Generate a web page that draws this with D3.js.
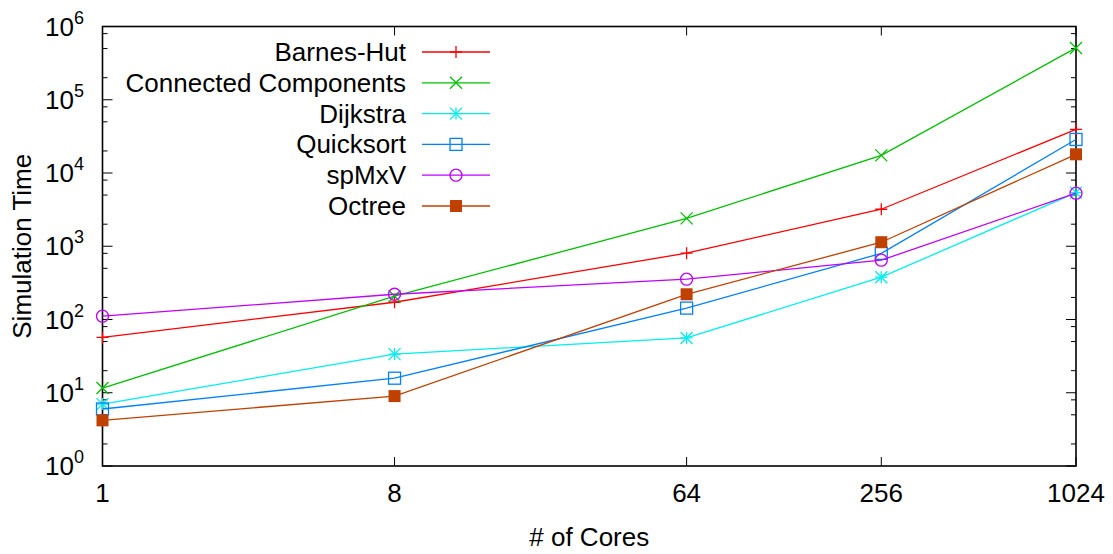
<!DOCTYPE html>
<html>
<head>
<meta charset="utf-8">
<script src="https://cdn.jsdelivr.net/npm/d3@7"></script>
<style>
  body { margin: 0; background: #fff; }
  text { font-family: "Liberation Sans", Arial, sans-serif; fill: #000; }
</style>
</head>
<body>
<svg id="chart" width="1113" height="554"></svg>
<script>
// cores on the x axis (log2 spaced)
const cores = [1, 8, 64, 256, 1024];

// simulation time per benchmark
const barnesHut = [57, 172, 805, 3200, 39500];
const connectedComponents = [11.6, 208, 2400, 17400, 510000];
const dijkstra = [7.0, 33.7, 56, 378, 5400];
const quicksort = [6.0, 15.8, 143, 800, 28700];
const spMxV = [111, 221, 355, 645, 5300];
const octree = [4.2, 9.0, 221, 1135, 18000];

const seriesNames = ["Barnes-Hut", "Connected Components", "Dijkstra", "Quicksort", "spMxV", "Octree"];
const seriesValues = [barnesHut, connectedComponents, dijkstra, quicksort, spMxV, octree];
const seriesColors = ["#ff0000", "#00c000", "#00eeee", "#0080ff", "#c000ff", "#c04000"];
const seriesMarkers = ["plus", "cross", "star", "square", "circle", "filledSquare"];

const yExponents = [0, 1, 2, 3, 4, 5, 6];

const svg = d3.select("#chart");
const plotL = 102.5, plotR = 1076, plotT = 26.5, plotB = 466;

const x = d3.scaleLog().base(2).domain([1, 1024]).range([plotL, plotR]);
const y = d3.scaleLog().domain([1, 1e6]).range([plotB, plotT]);

// tick marks on all four sides (gnuplot mirror style)
const ticks = svg.append("g").attr("stroke", "#000").attr("stroke-width", 1);
yExponents.forEach(e => {
  const v = Math.pow(10, e);
  ticks.append("line").attr("x1", plotL).attr("x2", plotL + 10).attr("y1", y(v)).attr("y2", y(v));
  ticks.append("line").attr("x1", plotR).attr("x2", plotR - 10).attr("y1", y(v)).attr("y2", y(v));
  if (e < 6) {
    [2, 5, 8].forEach(m => {
      const mv = m * v;
      ticks.append("line").attr("x1", plotL).attr("x2", plotL + 5).attr("y1", y(mv)).attr("y2", y(mv));
      ticks.append("line").attr("x1", plotR).attr("x2", plotR - 5).attr("y1", y(mv)).attr("y2", y(mv));
    });
  }
});
cores.forEach(c => {
  ticks.append("line").attr("x1", x(c)).attr("x2", x(c)).attr("y1", plotB).attr("y2", plotB - 9);
  ticks.append("line").attr("x1", x(c)).attr("x2", x(c)).attr("y1", plotT).attr("y2", plotT + 9);
});

// frame
svg.append("rect")
  .attr("x", plotL).attr("y", plotT)
  .attr("width", plotR - plotL).attr("height", plotB - plotT)
  .attr("fill", "none").attr("stroke", "#000").attr("stroke-width", 1.6);

// y tick labels 10^n
yExponents.forEach(e => {
  const t = svg.append("text")
    .attr("x", 84).attr("y", y(Math.pow(10, e)) + 9)
    .attr("text-anchor", "end")
    .style("font-size", "26px");
  t.append("tspan").text("10");
  t.append("tspan").attr("dy", -12).style("font-size", "18px").text(e);
});

// x tick labels
svg.append("g").selectAll("text").data(cores).enter().append("text")
  .attr("x", d => x(d)).attr("y", 502)
  .attr("text-anchor", "middle")
  .style("font-size", "26px")
  .text(d => d);

// axis titles
svg.append("text")
  .attr("x", (plotL + plotR) / 2).attr("y", 546)
  .attr("text-anchor", "middle")
  .style("font-size", "26px")
  .text("# of Cores");
svg.append("text")
  .attr("transform", "translate(31," + ((plotT + plotB) / 2) + ") rotate(-90)")
  .attr("text-anchor", "middle")
  .style("font-size", "26px")
  .text("Simulation Time");

function drawMarker(g, type, cx, cy, color) {
  const s = 6;
  if (type === "plus" || type === "star") {
    g.append("path").attr("d", `M${cx - s},${cy}H${cx + s}M${cx},${cy - s}V${cy + s}`)
      .attr("stroke", color).attr("stroke-width", 1.3).attr("fill", "none");
  }
  if (type === "cross" || type === "star") {
    g.append("path").attr("d", `M${cx - s},${cy - s}L${cx + s},${cy + s}M${cx - s},${cy + s}L${cx + s},${cy - s}`)
      .attr("stroke", color).attr("stroke-width", 1.3).attr("fill", "none");
  }
  if (type === "square") {
    g.append("rect").attr("x", cx - s).attr("y", cy - s).attr("width", 2 * s).attr("height", 2 * s)
      .attr("stroke", color).attr("stroke-width", 1.3).attr("fill", "none");
  }
  if (type === "filledSquare") {
    g.append("rect").attr("x", cx - s).attr("y", cy - s).attr("width", 2 * s).attr("height", 2 * s)
      .attr("fill", color);
  }
  if (type === "circle") {
    g.append("circle").attr("cx", cx).attr("cy", cy).attr("r", s)
      .attr("stroke", color).attr("stroke-width", 1.3).attr("fill", "none");
  }
}

const line = d3.line().x(d => x(d[0])).y(d => y(d[1]));

seriesNames.forEach((name, i) => {
  const g = svg.append("g");
  const pts = cores.map((c, j) => [c, seriesValues[i][j]]);
  g.append("path").datum(pts).attr("d", line)
    .attr("fill", "none").attr("stroke", seriesColors[i]).attr("stroke-width", 1.3);
  pts.forEach(p => drawMarker(g, seriesMarkers[i], x(p[0]), y(p[1]), seriesColors[i]));

  // legend entry
  const ly = 52 + i * 30.8;
  svg.append("text")
    .attr("x", 406).attr("y", ly + 9)
    .attr("text-anchor", "end")
    .style("font-size", "26px")
    .text(name);
  g.append("line").attr("x1", 422).attr("x2", 490).attr("y1", ly).attr("y2", ly)
    .attr("stroke", seriesColors[i]).attr("stroke-width", 1.3);
  drawMarker(g, seriesMarkers[i], 456, ly, seriesColors[i]);
});
</script>
</body>
</html>
